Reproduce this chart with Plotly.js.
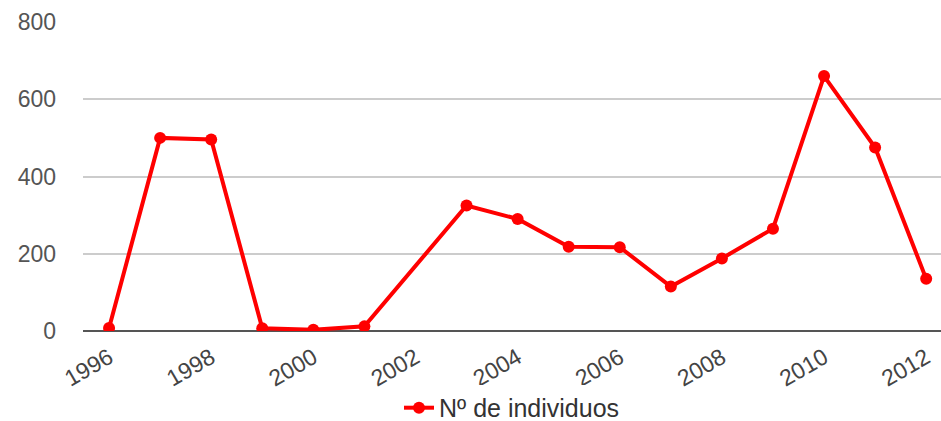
<!DOCTYPE html>
<html>
<head>
<meta charset="utf-8">
<script src="https://cdn.plot.ly/plotly-3.0.1.min.js"></script>
<style>html,body{margin:0;padding:0;background:#fff;}#chart{width:941px;height:421px;}</style>
</head>
<body>
<div id="chart"></div>
<script>
const years = [1996, 1997, 1998, 1999, 2000, 2001, 2003, 2004, 2005, 2006, 2007, 2008, 2009, 2010, 2011, 2012];
const individuos = [8, 500, 496, 7, 3, 12, 325, 290, 218, 217, 115, 188, 265, 660, 475, 135];
const seriesName = "Nº de individuos";
const xTicks = [1996, 1998, 2000, 2002, 2004, 2006, 2008, 2010, 2012];
const yTicks = [0, 200, 400, 600, 800];

Plotly.newPlot('chart', [{
  x: years,
  y: individuos,
  name: seriesName,
  type: 'scatter',
  mode: 'lines+markers',
  line: {color: '#ff0000', width: 4},
  marker: {color: '#ff0000', size: 12},
  showlegend: true
}], {
  width: 941,
  height: 421,
  margin: {l: 83, r: 0, t: 22, b: 90},
  paper_bgcolor: '#ffffff',
  plot_bgcolor: '#ffffff',
  font: {family: 'Liberation Sans, Arial, sans-serif', size: 23, color: '#444444'},
  xaxis: {
    range: [1995.49, 2012.29],
    tickvals: xTicks,
    ticktext: xTicks.map(String),
    tickangle: -30,
    automargin: false,
    showgrid: false,
    zeroline: false,
    showline: false,
    ticks: '',
    ticklabelstandoff: 8,
    tickfont: {size: 23, color: '#444444'}
  },
  yaxis: {
    range: [0, 800],
    tickvals: yTicks,
    automargin: false,
    showgrid: true,
    gridcolor: '#cccccc',
    gridwidth: 2,
    zeroline: true,
    zerolinecolor: '#555555',
    zerolinewidth: 2,
    showline: false,
    ticks: '',
    ticklabelstandoff: 26,
    tickfont: {size: 23, color: '#555555'}
  },
  legend: {
    orientation: 'h',
    x: 0.5,
    xanchor: 'center',
    xref: 'paper',
    yref: 'container',
    y: 0.031,
    yanchor: 'middle',
    font: {size: 25, color: '#333333'}
  },
  showlegend: true
}, {displayModeBar: false});
</script>
</body>
</html>
